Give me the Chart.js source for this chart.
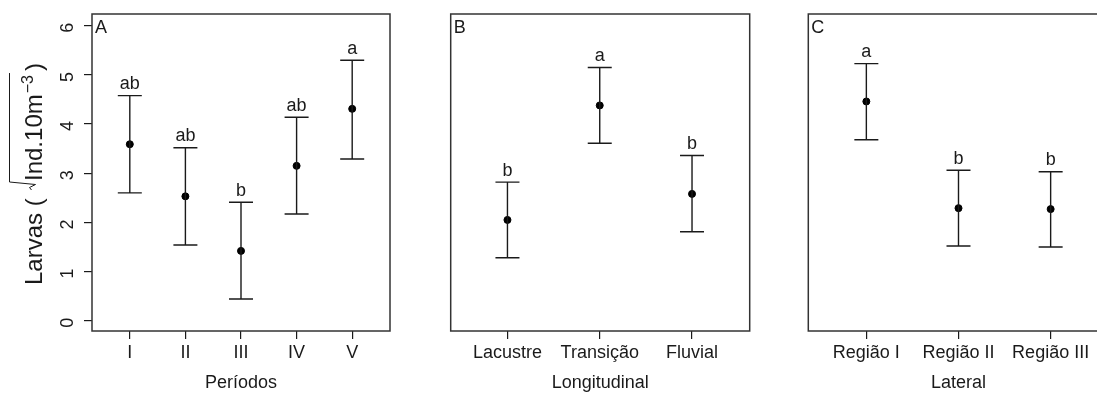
<!DOCTYPE html>
<html>
<head>
<meta charset="utf-8">
<script src="https://cdn.jsdelivr.net/npm/chart.js@4.4.1/dist/chart.umd.min.js"></script>
<style>
  body { margin: 0; background: #fff; }
  #wrap { position: relative; width: 1097px; height: 394px; overflow: hidden; }
  canvas { position: absolute; top: 0; }
</style>
</head>
<body>
<div id="wrap">
  <canvas id="chartA" style="left:0px"></canvas>
  <canvas id="chartB" style="left:400px"></canvas>
  <canvas id="chartC" style="left:760px"></canvas>
</div>
<script>
// panel A - periodos
const periodos = ["I", "II", "III", "IV", "V"];
const periodosMean = [3.59, 2.53, 1.42, 3.15, 4.31];
const periodosLow = [2.60, 1.54, 0.44, 2.17, 3.29];
const periodosHigh = [4.58, 3.52, 2.41, 4.14, 5.30];
const periodosLetters = ["ab", "ab", "b", "ab", "a"];

// panel B - longitudinal
const longitudinal = ["Lacustre", "Transição", "Fluvial"];
const longMean = [2.05, 4.38, 2.58];
const longLow = [1.28, 3.61, 1.81];
const longHigh = [2.82, 5.15, 3.36];
const longLetters = ["b", "a", "b"];

// panel C - lateral
const lateral = ["Região I", "Região II", "Região III"];
const latMean = [4.46, 2.29, 2.27];
const latLow = [3.68, 1.52, 1.50];
const latHigh = [5.23, 3.06, 3.03];
const latLetters = ["a", "b", "b"];

const yTicks = [0, 1, 2, 3, 4, 5, 6];

const FONT = "'Liberation Sans', Arial, sans-serif";
const INK = "#1a1a1a";

// error bars, letters, box and panel tag
const errorBarPlugin = {
    id: "errorBars",
    afterDatasetsDraw(chart) {
        const p = chart.options.plugins.errorBars;
        const ctx = chart.ctx;
        const xs = chart.scales.x;
        const ys = chart.scales.y;
        ctx.save();
        ctx.strokeStyle = INK;
        ctx.lineWidth = 1.4;
        ctx.fillStyle = INK;
        ctx.font = "18px " + FONT;
        ctx.textAlign = "center";
        ctx.textBaseline = "alphabetic";
        p.low.forEach((lo, i) => {
            const x = xs.getPixelForValue(i + 1);
            const y1 = ys.getPixelForValue(lo);
            const y2 = ys.getPixelForValue(p.high[i]);
            ctx.beginPath();
            ctx.moveTo(x, y1); ctx.lineTo(x, y2);
            ctx.moveTo(x - 12, y1); ctx.lineTo(x + 12, y1);
            ctx.moveTo(x - 12, y2); ctx.lineTo(x + 12, y2);
            ctx.stroke();
            ctx.fillText(p.letters[i], x, y2 - 6.5);
        });
        ctx.restore();
    },
    afterDraw(chart) {
        const p = chart.options.plugins.errorBars;
        const a = chart.chartArea;
        const ctx = chart.ctx;
        ctx.save();
        ctx.strokeStyle = "#333";
        ctx.lineWidth = 1.5;
        ctx.strokeRect(a.left, a.top, a.right - a.left, a.bottom - a.top);
        ctx.fillStyle = INK;
        ctx.font = "18px " + FONT;
        ctx.textAlign = "left";
        ctx.fillText(p.tag, a.left + 3, a.top + 19);
        ctx.restore();
    }
};

// y title with the square root drawn over Ind.10m-3
const yTitlePlugin = {
    id: "yTitle",
    afterDraw(chart) {
        if (!chart.options.plugins.yTitle) return;
        const ctx = chart.ctx;
        ctx.save();
        ctx.translate(41.5, 285);
        ctx.rotate(-Math.PI / 2);
        ctx.fillStyle = INK;
        ctx.strokeStyle = INK;
        ctx.textBaseline = "alphabetic";
        ctx.font = "24px " + FONT;
        ctx.fillText("Larvas (", 0, 0);
        ctx.fillText("Ind.10m", 104, 0);
        const w = ctx.measureText("Ind.10m").width;
        ctx.font = "16px " + FONT;
        ctx.fillText("\u22123", 104 + w + 1, -9);
        const w2 = ctx.measureText("\u22123").width;
        ctx.font = "24px " + FONT;
        ctx.fillText(")", 104 + w + w2 + 5, 0);
        ctx.lineWidth = 1;
        ctx.beginPath();
        ctx.moveTo(95, -10);
        ctx.lineTo(97.5, -12);
        ctx.lineTo(100.5, -6);
        ctx.lineTo(103, -32);
        ctx.lineTo(104 + w + w2 + 3, -32);
        ctx.stroke();
        ctx.restore();
    }
};

function makeChart(id, width, cats, mean, low, high, letters, tag, xTitle, xMin, xMax, pad, showY) {
    const canvas = document.getElementById(id);
    canvas.width = width;
    canvas.height = 394;
    return new Chart(canvas, {
        type: "scatter",
        data: {
            datasets: [{
                data: mean.map((m, i) => ({ x: i + 1, y: m })),
                backgroundColor: "#000",
                borderColor: "#000",
                pointRadius: 3.5,
                pointHoverRadius: 3.5,
            }],
        },
        options: {
            responsive: false,
            animation: false,
            events: [],
            layout: { padding: pad },
            plugins: {
                legend: { display: false },
                tooltip: { enabled: false },
                errorBars: { low: low, high: high, letters: letters, tag: tag },
                yTitle: showY,
            },
            scales: {
                x: {
                    type: "linear",
                    min: xMin,
                    max: xMax,
                    afterBuildTicks: (s) => { s.ticks = cats.map((c, i) => ({ value: i + 1 })); },
                    afterFit: (s) => { s.height = 63; s.paddingLeft = 0; s.paddingRight = 0; },
                    border: { display: false },
                    grid: { drawOnChartArea: false, drawTicks: true, tickLength: 8, color: INK, lineWidth: 1.2 },
                    ticks: {
                        color: INK,
                        font: { family: FONT, size: 18 },
                        padding: 3,
                        maxRotation: 0,
                        autoSkip: false,
                        callback: (v) => cats[v - 1],
                    },
                    title: { display: true, text: xTitle, color: INK, font: { family: FONT, size: 18 }, padding: { top: 0, bottom: 0 } },
                },
                y: {
                    display: showY,
                    min: -0.21,
                    max: 6.24,
                    afterBuildTicks: (s) => { s.ticks = yTicks.map((v) => ({ value: v })); },
                    afterFit: (s) => { s.width = showY ? 92 : 0; s.paddingTop = 0; s.paddingBottom = 0; },
                    border: { display: false },
                    grid: { drawOnChartArea: false, drawTicks: true, tickLength: 8, color: INK, lineWidth: 1.2 },
                    ticks: {
                        color: INK,
                        font: { family: FONT, size: 18 },
                        padding: 16,
                        labelOffset: -3,
                        minRotation: 90,
                        maxRotation: 90,
                    },
                },
            },
        },
        plugins: [errorBarPlugin, yTitlePlugin],
    });
}

makeChart("chartA", 400, periodos, periodosMean, periodosLow, periodosHigh, periodosLetters,
    "A", "Períodos", 0.32, 5.68, { left: 0, right: 10, top: 14, bottom: 0 }, true);
makeChart("chartB", 360, longitudinal, longMean, longLow, longHigh, longLetters,
    "B", "Longitudinal", 0.385, 3.625, { left: 50.7, right: 10.3, top: 14, bottom: 0 }, false);
makeChart("chartC", 360, lateral, latMean, latLow, latHigh, latLetters,
    "C", "Lateral", 0.37, 3.63, { left: 48.3, right: 11.3, top: 14, bottom: 0 }, false);
</script>
</body>
</html>
